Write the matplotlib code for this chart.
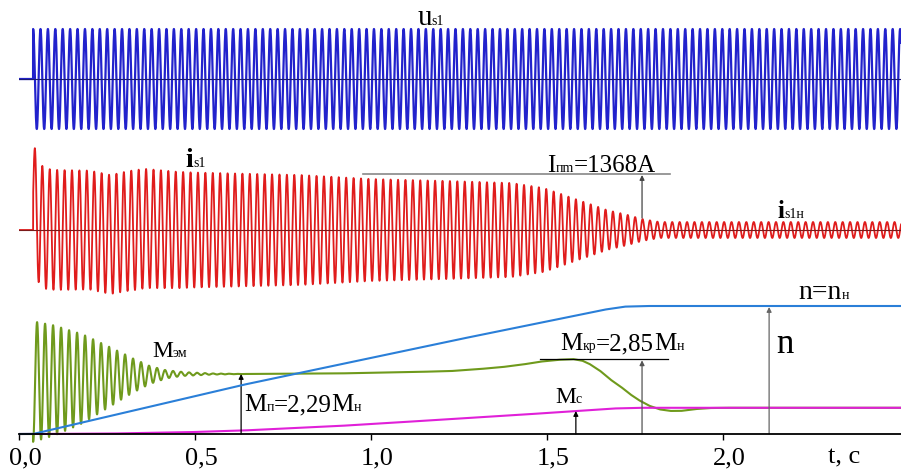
import numpy as np
import matplotlib.pyplot as plt
from matplotlib.transforms import IdentityTransform, ScaledTranslation

t_start = 0.04          # момент подключения, с
f_net = 47.5            # частота сети на графике, Гц
f_torque = 44.0         # частота колебаний момента, Гц

u_amp = 50.0            # амплитуда напряжения (усл. ед. графика)

# огибающая тока статора
i_env_t = [0.04, 0.10, 0.20, 0.26, 0.33, 0.40, 0.50, 0.80, 1.00, 1.22, 1.40,
           1.49, 1.54, 1.58, 1.63, 1.67, 1.73, 1.77, 1.82, 2.51]
i_env = [61, 60, 59.5, 59.5, 60, 59, 57.5, 55, 51, 49, 47,
         42, 36, 31, 25, 20, 15, 11, 8, 8]
i_off_t = [0.04, 0.20, 0.26, 0.31, 0.36, 0.45, 2.51]
i_off = [0, 0, -4.5, -1, 1.5, 0, 0]
i_dc0 = 32.0
i_dc_tau = 0.012

# скорость n, о.е.
n_t = [0.04, 0.63, 1.224, 1.50, 1.66, 1.72, 1.78, 2.51]
n_pu = [0.0, 0.38, 0.725, 0.88, 0.97, 0.995, 1.0, 1.0]

# средний электромагнитный момент, доли Mн
m_t = [0.04, 0.15, 0.30, 0.45, 0.63, 0.90, 1.10, 1.224, 1.30, 1.37, 1.43, 1.48,
       1.53, 1.574, 1.60, 1.62, 1.65, 1.68, 1.71, 1.736, 1.76, 1.79, 1.82,
       1.85, 1.88, 1.92, 1.96, 2.00, 2.51]
m_em = [2.0, 2.08, 2.22, 2.29, 2.29, 2.31, 2.36, 2.40, 2.47, 2.55, 2.65, 2.76,
        2.83, 2.86, 2.80, 2.68, 2.42, 2.08, 1.80, 1.52, 1.30, 1.08, 0.94,
        0.88, 0.88, 0.95, 0.99, 1.0, 1.0]
# огибающая колебаний момента
osc_t = [0.04, 0.10, 0.18, 0.256, 0.324, 0.372, 0.42, 0.47, 0.55, 0.65, 2.51]
osc_amp = [2.3, 2.1, 1.7, 1.15, 0.65, 0.34, 0.15, 0.07, 0.02, 0.0, 0.0]

# момент сопротивления, доли Mн
mc_t = [0.04, 0.25, 0.47, 0.63, 0.90, 1.05, 1.224, 1.42, 1.585, 1.68, 1.76, 2.51]
mc = [0.0, 0.015, 0.065, 0.13, 0.30, 0.42, 0.57, 0.73, 0.88, 0.97, 1.0, 1.0]

M_p = 2.29
M_kr = 2.85
t_Mp = 0.631
t_Mkr = 1.77
t_Mc = 1.582
t_n = 2.131

tick_pos = [0.0, 0.5, 1.0, 1.5, 2.0]
tick_txt = ['0,0', '0,5', '1,0', '1,5', '2,0']

# ---- масштабы дорожек ----
U_ZERO = 355
I_ZERO = 204
M_SC = 26.2
N_SC = 128

FONT = 'Liberation Serif'

fig = plt.figure(figsize=(9.01, 4.70), dpi=100)
ax = fig.add_axes([19 / 901, 0, 882 / 901, 1])
ax.set_xlim(0, 882 / 352)
ax.set_ylim(-36, 434)

t = np.linspace(0, 2.51, 25101)
on = t >= t_start
dt = t - t_start

u = np.where(on, U_ZERO + u_amp * np.cos(2 * np.pi * f_net * dt), U_ZERO)
i = np.where(on, I_ZERO + np.interp(t, i_env_t, i_env) * np.sin(2 * np.pi * f_net * dt)
             + np.interp(t, i_off_t, i_off) + i_dc0 * np.exp(-np.clip(dt, 0, None) / i_dc_tau), I_ZERO)
m = np.where(on, np.interp(t, m_t, m_em)
             - np.interp(t, osc_t, osc_amp) * np.cos(2 * np.pi * f_torque * dt), 0)
n = np.where(on, np.interp(t, n_t, n_pu), 0)
mcl = np.where(on, np.interp(t, mc_t, mc), 0)

ax.plot(t, u, color='#2222cc', lw=1.6, zorder=2)
ax.axhline(U_ZERO, color='#1a1a70', lw=0.8, zorder=3)
ax.plot(t, i, color='#e01c1c', lw=1.3, zorder=2)
ax.axhline(I_ZERO, color='#7a1a1a', lw=0.8, zorder=3)
ax.plot(t, m * M_SC, color='#6f9a1c', lw=1.5, zorder=2)
ax.plot(t, mcl * M_SC, color='#e020d8', lw=1.5, zorder=3)
ax.plot(t, n * N_SC, color='#2a7fd8', lw=1.5, zorder=4)

# оси
for s in ['left', 'right', 'top']:
    ax.spines[s].set_visible(False)
ax.spines['bottom'].set_position(('data', 0))
ax.spines['bottom'].set_linewidth(1.3)
ax.spines['bottom'].set_zorder(5)
ax.set_yticks([])
ax.set_xticks(tick_pos)
ax.set_xticklabels(tick_txt, fontsize=19, family=FONT)
ax.tick_params(axis='x', direction='out', length=4, width=1, pad=6)
shift = ScaledTranslation(6 / 100, 0, fig.dpi_scale_trans)
for lab in ax.get_xticklabels():
    lab.set_transform(lab.get_transform() + shift)
ax.text(2.344, -23, 't, с', fontsize=19, family=FONT, ha='center', va='center')

# стрелки и выноски
def arrow(x, y0, y1, col):
    ax.annotate('', xy=(x, y1), xytext=(x, y0),
                arrowprops=dict(arrowstyle='-|>', color=col, lw=0.9,
                                mutation_scale=7, shrinkA=0, shrinkB=0))

ax.plot([0.977, 1.849], [260, 260], color='#888888', lw=1.2)
arrow(t_Mkr, 216, 259, '#444444')
ax.plot([1.48, 1.844], [M_kr * M_SC, M_kr * M_SC], color='k', lw=0.9)
arrow(t_Mkr, 0, M_kr * M_SC - 1, '#555555')
arrow(t_n, 0, N_SC - 1, '#666666')
arrow(t_Mp, 0, M_p * M_SC, 'k')
arrow(t_Mc, 0, np.interp(t_Mc, mc_t, mc) * M_SC, 'k')

# подписи с "подстрочными" индексами на общей базовой линии
fig.canvas.draw()
renderer = fig.canvas.get_renderer()

def label(x, y, parts):
    px, py = ax.transData.transform((x, y))
    for s, size, w in parts:
        txt = ax.text(px, py, s, transform=IdentityTransform(), fontsize=size,
                      family=FONT, fontweight=w, ha='left', va='baseline')
        px = txt.get_window_extent(renderer).x1

label(1.131, 409, [('u', 21, 'normal'), ('s1', 10, 'normal')])
label(0.472, 267, [('i', 20, 'bold'), ('s1', 10, 'normal')])
label(1.50, 262, [('I', 18, 'normal'), ('пm', 10, 'normal'), ('=1368A', 18, 'normal')])
label(2.156, 216, [('i', 18, 'bold'), ('s1н', 10, 'normal')])
label(2.213, 135, [('n=n', 20, 'normal'), ('н', 10, 'normal')])
label(2.151, 81, [('n', 25, 'normal')])
label(0.378, 77, [('M', 17, 'normal'), ('эм', 10, 'normal')])
label(0.639, 23, [('M', 18, 'normal'), ('п', 10, 'normal'), ('=2,29', 18, 'normal'),
                  ('M', 18, 'normal'), ('н', 10, 'normal')])
label(1.537, 84, [('M', 18, 'normal'), ('кр', 10, 'normal'), ('=2,85', 18, 'normal'),
                  ('M', 18, 'normal'), ('н', 10, 'normal')])
label(1.523, 31, [('M', 17, 'normal'), ('c', 10, 'normal')])

fig.savefig('out.png', dpi=100)
